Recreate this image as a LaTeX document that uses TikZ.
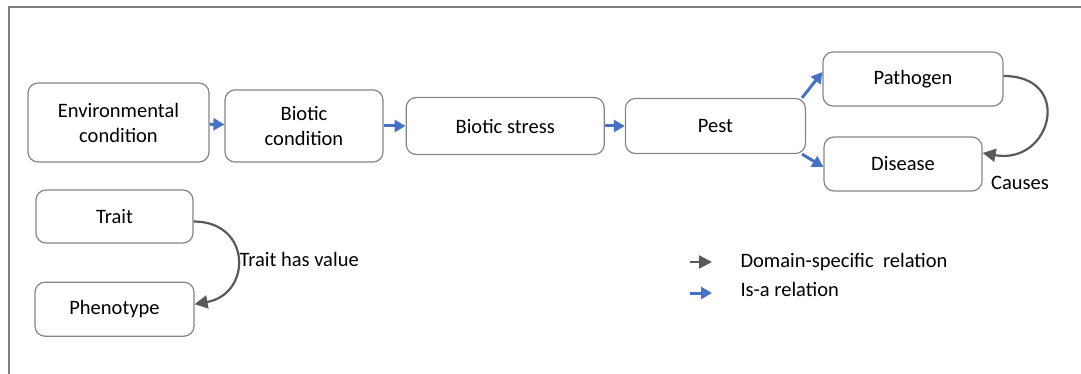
\documentclass[tikz,border=0pt]{standalone}
\usepackage{fontspec}
\setmainfont{Carlito}
\usetikzlibrary{positioning, calc}
\usetikzlibrary{arrows.meta}
\definecolor{isablue}{HTML}{4472C4}
\definecolor{relgray}{HTML}{595959}
\definecolor{boxgray}{HTML}{858585}
\definecolor{framegray}{HTML}{7F7F7F}

\tikzset{
	box/.style={draw=boxgray, line width=1.2pt, rounded corners=10pt, align=center, inner sep=0pt},
	isa/.style={isablue, line width=3pt, -{Triangle[length=11pt,width=12pt]}},
	rel/.style={relgray, line width=2.2pt, -{Triangle[length=13pt,width=13pt]}},
}

\begin{document}
\begin{tikzpicture}[x=1pt,y=-1pt,font=\fontsize{20.5}{25}\selectfont]
		\useasboundingbox (0,0) rectangle (1081,374);
		\draw[framegray, line width=1.5pt] (9,374) -- (9,7) -- (1081,7);
		
		% upper chain
		\node[box, minimum width=181pt, minimum height=79pt]	(env) at (118.5,122.5)	{Environmental\\condition};
		\node[box, minimum width=158pt, minimum height=72pt]	(biocond) at (304,126)	{Biotic\\condition};
		\node[box, minimum width=198pt, minimum height=57pt]	(biostress) [right=22pt of biocond]	{Biotic stress};
		\node[box, minimum width=180pt, minimum height=55pt]	(pest) [right=20pt of biostress]	{Pest};
		\node[box, minimum width=180pt, minimum height=54pt]	(pathogen) at (913,79)	{Pathogen};
		\node[box, minimum width=158pt, minimum height=54pt]	(disease) at (903,164)	{Disease};
		
		\draw[isa] (env) -- (biocond);
		\draw[isa] (biocond) -- (biostress);
		\draw[isa] (biostress) -- (pest);
		\draw[isa] ([xshift=-4pt]pest.north east) -- ([yshift=7pt]pathogen.west);
		\draw[isa] ([xshift=-4pt]pest.south east) -- ([yshift=-3pt]disease.west);
		
		\draw[rel] ([yshift=3pt]pathogen.east) to[out=0,in=-10,looseness=2.25] ([yshift=11pt]disease.east);
		\node		(causes) at (1020,183)	{Causes};
		
		% trait
		\node[box, minimum width=157pt, minimum height=53pt]	(trait) at (114.5,216.5)	{Trait};
		\node[box, minimum width=159pt, minimum height=54pt]	(phenotype) [below=38pt of trait]	{Phenotype};
		\draw[rel] ([yshift=-5pt]trait.east) to[out=0,in=10,looseness=1.8]
			node[right, inner sep=1pt, text=black] (hasvalue) {Trait has value} ([yshift=5pt]phenotype.east);
		
		% legend
		\coordinate (rel a) at (690,262); \coordinate (rel b) at (712,262);
		\coordinate (isa a) at (690,293); \coordinate (isa b) at (712,293);
		\draw[rel] (rel a) -- (rel b);
		\draw[isa] (isa a) -- (isa b);
		\node		(rel text) [anchor=west] at (737,262)	{Domain-specific\ \ relation};
		\node		(isa text) [anchor=west] at (737,289)	{Is-a relation};
		
\end{tikzpicture}
\end{document}
